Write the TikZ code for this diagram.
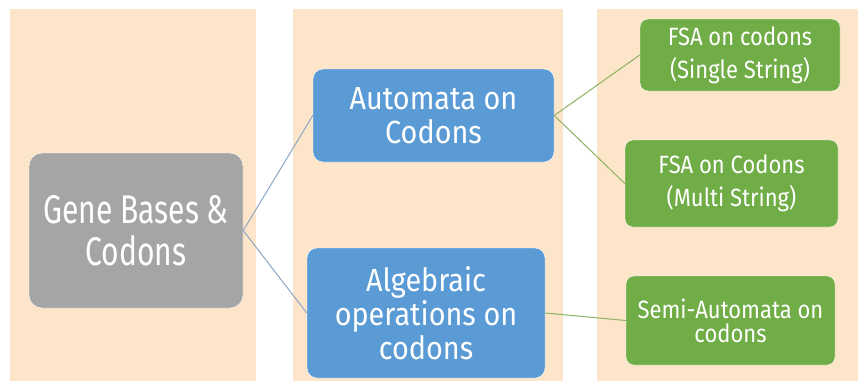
\documentclass[tikz,border=0pt]{standalone}
\usepackage{fontspec}
\setmainfont{Fira Sans}
\newfontfamily\rootfont{Fira Sans}[FakeStretch=0.75]
\newfontfamily\midfont{Fira Sans}[FakeStretch=0.9]
\newfontfamily\leaffont{Fira Sans}[FakeStretch=0.88]
\usepackage{xcolor}
\usepackage{tikz}
\usetikzlibrary{shapes}
\definecolor{bgcol}{RGB}{253,229,201}
\definecolor{graycol}{RGB}{165,165,165}
\definecolor{bluecol}{RGB}{91,155,213}
\definecolor{greencol}{RGB}{112,173,71}
\definecolor{bluelink}{RGB}{140,166,198}
\definecolor{greenlink}{RGB}{140,178,100}
\tikzstyle{column} = [fill=bgcol, draw=none]
\tikzstyle{rootbox} = [draw=white, fill=graycol, rectangle, rounded corners=13pt, text=white, align=center, font=\rootfont\fontsize{40}{42}\selectfont, minimum width=214pt, minimum height=155pt]
\tikzstyle{midbox} = [draw=white, fill=bluecol, rectangle, rounded corners=10pt, text=white, align=center, font=\midfont\fontsize{32}{34}\selectfont]
\tikzstyle{leafbox} = [draw=white, fill=greencol, rectangle, rounded corners=8pt, text=white, align=center, font=\leaffont\fontsize{25}{33}\selectfont]
\tikzstyle{bluelinkline} = [draw=bluelink, line width=1pt]
\tikzstyle{greenlinkline} = [draw=greenlink, line width=1pt]

\begin{document}
\begin{tikzpicture}[x=1pt, y=-1pt]
    % 背景
    \fill[white] (0,0) rectangle (858,381);
    \useasboundingbox (0,0) rectangle (858,381);
    \fill[column] (10,9) rectangle (256,381);
    \fill[column] (293,9) rectangle (563,381);
    \fill[column] (597,9) rectangle (858,381);

    % 放置节点
    \node [rootbox] (gene) at (136,230.5) {Gene Bases \&\\Codons};
    \node [midbox, minimum width=241pt, minimum height=93pt] (automata) at (433.5,115.5) {Automata on\\Codons};
    \node [midbox, minimum width=238pt, minimum height=130pt] (algebra) at (426,313) {Algebraic\\operations on\\codons};
    \node [leafbox, minimum width=200pt, minimum height=72pt] (fsasingle) at (740,55) {FSA on codons\\(Single String)};
    \node [leafbox, minimum width=213pt, minimum height=87pt] (fsamulti) at (731.5,183.5) {FSA on Codons\\(Multi String)};
    \node [leafbox, minimum width=209pt, minimum height=89pt, font=\leaffont\fontsize{25}{24}\selectfont] (semi) at (730.5,320.5) {Semi-Automata on\\codons};

    % 连线
    \draw [bluelinkline] (gene.east) -- (automata.west);
    \draw [bluelinkline] (gene.east) -- (algebra.west);
    \draw [greenlinkline] (automata.east) -- (fsasingle.west);
    \draw [greenlinkline] (automata.east) -- (fsamulti.west);
    \draw [greenlinkline] (algebra.east) -- (semi.west);
\end{tikzpicture}
\end{document}
